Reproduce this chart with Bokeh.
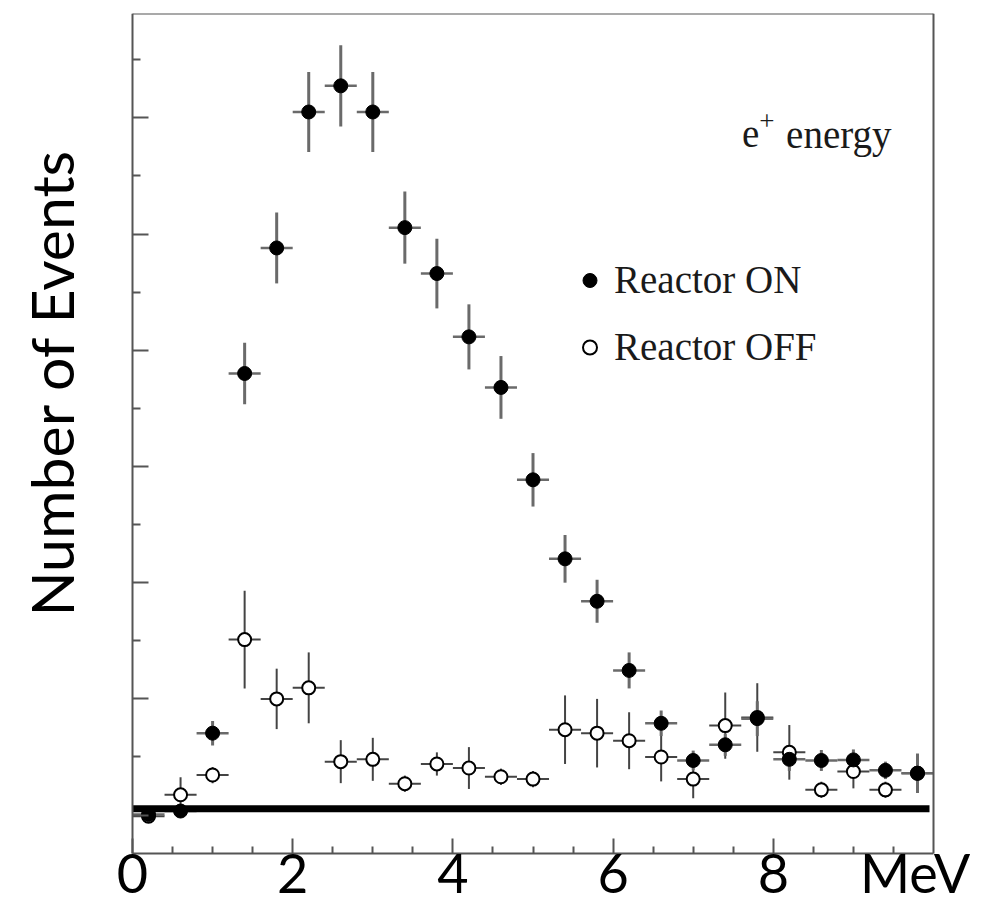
from bokeh.plotting import figure
from bokeh.models import (ColumnDataSource, FixedTicker, Range1d, Label, Legend, LegendItem,
                          Title, LinearAxis)
from bokeh.embed import file_html
from bokeh.resources import INLINE

# ---------------- data ----------------
energy = [0.2, 0.6, 1.0, 1.4, 1.8, 2.2, 2.6, 3.0, 3.4, 3.8, 4.2, 4.6, 5.0,
          5.4, 5.8, 6.2, 6.6, 7.0, 7.4, 7.8, 8.2, 8.6, 9.0, 9.4, 9.8]
bin_half_width = 0.2

on_counts = [0.1, 0.7, 14.1, 76.0, 97.6, 121.0, 125.5, 121.0, 101.1, 93.2, 82.3, 73.6, 57.7,
             44.1, 36.8, 24.9, 15.8, 9.4, 12.1, 16.6, 9.6, 9.4, 9.5, 7.7, 7.2]
on_err = [0.8, 1.2, 2.1, 5.3, 6.1, 6.9, 7.0, 6.9, 6.2, 6.0, 5.6, 5.4, 4.6,
          4.1, 3.7, 3.1, 2.2, 1.7, 1.9, 3.0, 2.0, 1.8, 1.8, 1.5, 3.4]

off_counts = [-0.2, 3.5, 6.9, 30.2, 20.0, 21.9, 9.2, 9.6, 5.4, 8.8, 8.1, 6.6, 6.2,
              14.7, 14.1, 12.8, 10.0, 6.2, 15.4, 16.8, 10.8, 4.35, 7.5, 4.35, 7.2]
off_err = [1.0, 3.0, 1.4, 8.4, 5.2, 6.1, 3.7, 3.7, 1.4, 2.0, 3.6, 1.4, 1.4,
           5.9, 5.9, 4.9, 4.2, 3.3, 5.7, 5.9, 4.7, 1.4, 2.9, 1.4, 1.4]

x_major_ticks = [0, 2, 4, 6, 8]
x_tick_labels = {0: "0", 2: "2", 4: "4", 6: "6", 8: "8"}
x_minor_ticks = [0.5, 1, 1.5, 2.5, 3, 3.5, 4.5, 5, 5.5, 6.5, 7, 7.5, 8.5, 9, 9.5]
y_major_ticks = [0, 20, 40, 60, 80, 100, 120]
y_minor_ticks = [10, 30, 50, 70, 90, 110, 130]

unit_label = "MeV"
y_title = "Number of Events"

baseline_level = 1.1
baseline_end = 9.95

# ---------------- geometry ----------------
X0, X1 = 0.0, 10.0          # box left / right (data)
Y0, Y1 = -6.61, 137.95      # box bottom / top (data)
YB = -15.90                 # bottom of drawing area (room for tick labels)
BOX_L, BOX_R = 132, 933     # box left / right in pixels
FRAME_L = 104               # drawing area starts here (title panel to its left)
W = 998
PX = (BOX_R - BOX_L) / (X1 - X0)
XL = X0 - (BOX_L - FRAME_L) / PX
XR = X1 + (W - BOX_R) / PX

# ---------------- sources ----------------
def make_source(counts, errs, hw):
    return ColumnDataSource(dict(
        x=energy, y=counts,
        ylo=[c - e for c, e in zip(counts, errs)],
        yhi=[c + e for c, e in zip(counts, errs)],
        xlo=[x - hw for x in energy],
        xhi=[x + hw for x in energy],
    ))

on_src = make_source(on_counts, on_err, bin_half_width)
off_src = make_source(off_counts, off_err, bin_half_width)

# ---------------- figure ----------------
p = figure(width=W, height=907, output_backend="svg", toolbar_location=None,
           x_range=Range1d(XL, XR), y_range=Range1d(YB, Y1),
           min_border_left=FRAME_L, min_border_right=0,
           min_border_top=13, min_border_bottom=0)
p.grid.visible = False
p.outline_line_color = None
p.background_fill_color = "white"
p.border_fill_color = "white"

AX_COLOR = "#555555"

def style_axis(a):
    a.axis_line_color = AX_COLOR
    a.axis_line_width = 2
    a.major_tick_line_color = AX_COLOR
    a.major_tick_line_width = 2
    a.minor_tick_line_color = AX_COLOR
    a.minor_tick_line_width = 2
    a.major_tick_out = 0
    a.minor_tick_out = 0

ax = p.xaxis[0]
style_axis(ax)
ax.fixed_location = Y0
ax.bounds = (X0, X1)
ax.ticker = FixedTicker(ticks=x_major_ticks, minor_ticks=x_minor_ticks)
ax.major_label_overrides = x_tick_labels
ax.major_label_text_font = "Lato"
ax.major_label_text_font_size = "54px"
ax.major_label_text_color = "black"
ax.major_label_standoff = 0
ax.major_tick_in = 15
ax.minor_tick_in = 7

ay = p.yaxis[0]
style_axis(ay)
ay.fixed_location = X0
ay.bounds = (Y0, Y1)
ay.ticker = FixedTicker(ticks=y_major_ticks, minor_ticks=y_minor_ticks)
ay.major_label_text_font_size = "0px"
ay.major_label_text_color = None
ay.major_label_standoff = 0
ay.major_tick_in = 16
ay.minor_tick_in = 8

# top and right edges of the box
top_ax = LinearAxis(fixed_location=Y1, bounds=(X0, X1),
                    ticker=FixedTicker(ticks=[], minor_ticks=[]))
right_ax = LinearAxis(fixed_location=X1, bounds=(Y0, Y1),
                      ticker=FixedTicker(ticks=[], minor_ticks=[]))
for a in (top_ax, right_ax):
    style_axis(a)
    a.major_tick_line_color = None
    a.minor_tick_line_color = None
    a.major_label_text_font_size = "0px"
    a.major_label_text_color = None
    a.major_label_standoff = 0
p.add_layout(top_ax, "above")
p.add_layout(right_ax, "right")

# error bars
p.segment(x0="x", y0="ylo", x1="x", y1="yhi", source=off_src, line_color="#444444", line_width=2)
p.segment(x0="xlo", y0="y", x1="xhi", y1="y", source=off_src, line_color="#444444", line_width=2)
p.segment(x0="x", y0="ylo", x1="x", y1="yhi", source=on_src, line_color="#6a6a6a", line_width=3)
p.segment(x0="xlo", y0="y", x1="xhi", y1="y", source=on_src, line_color="#6a6a6a", line_width=2.5)

off_r = p.scatter("x", "y", source=off_src, size=13, marker="circle",
                  fill_color="white", line_color="black", line_width=2)
on_r = p.scatter("x", "y", source=on_src, size=14, marker="circle",
                 fill_color="black", line_color="black", line_width=1)

# thick baseline
p.segment(x0=[X0], y0=[baseline_level], x1=[baseline_end], y1=[baseline_level],
          line_color="black", line_width=7, line_cap="butt")

# legend
legend = Legend(items=[LegendItem(label="Reactor ON", renderers=[on_r]),
                       LegendItem(label="Reactor OFF", renderers=[off_r])],
                location=(440 + BOX_L - FRAME_L, 538), orientation="vertical",
                label_text_font="Liberation Serif", label_text_font_size="39px",
                label_text_color="#1a1a1a", glyph_width=35, glyph_height=44,
                label_standoff=7, spacing=22, padding=0, margin=0,
                border_line_color=None, background_fill_alpha=0)
p.add_layout(legend)

# e+ energy annotation
p.add_layout(Label(x=7.61, y=117.2, text="e", text_font="Liberation Serif",
                   text_font_size="39px", text_color="#1a1a1a", text_baseline="alphabetic"))
p.add_layout(Label(x=7.92, y=119.5, text="+", text_font="Liberation Serif",
                   text_font_size="27px", text_color="#1a1a1a", text_align="center",
                   text_baseline="alphabetic"))
p.add_layout(Label(x=8.16, y=117.2, text="energy", text_font="Liberation Serif",
                   text_font_size="39px", text_color="#1a1a1a", text_baseline="alphabetic"))

# unit label at the end of the energy axis
p.add_layout(Label(x=9.77, y=-9.84, text=unit_label, text_font="Lato",
                   text_font_size="54px", text_color="black",
                   text_align="center", text_baseline="alphabetic"))

# y axis title
p.add_layout(Title(text=y_title, align="left", offset=291, vertical_align="top",
                   standoff=31, text_font="Lato", text_font_size="59px",
                   text_font_style="normal", text_color="black"), "left")

open("out.html", "w").write(file_html(p, INLINE))
